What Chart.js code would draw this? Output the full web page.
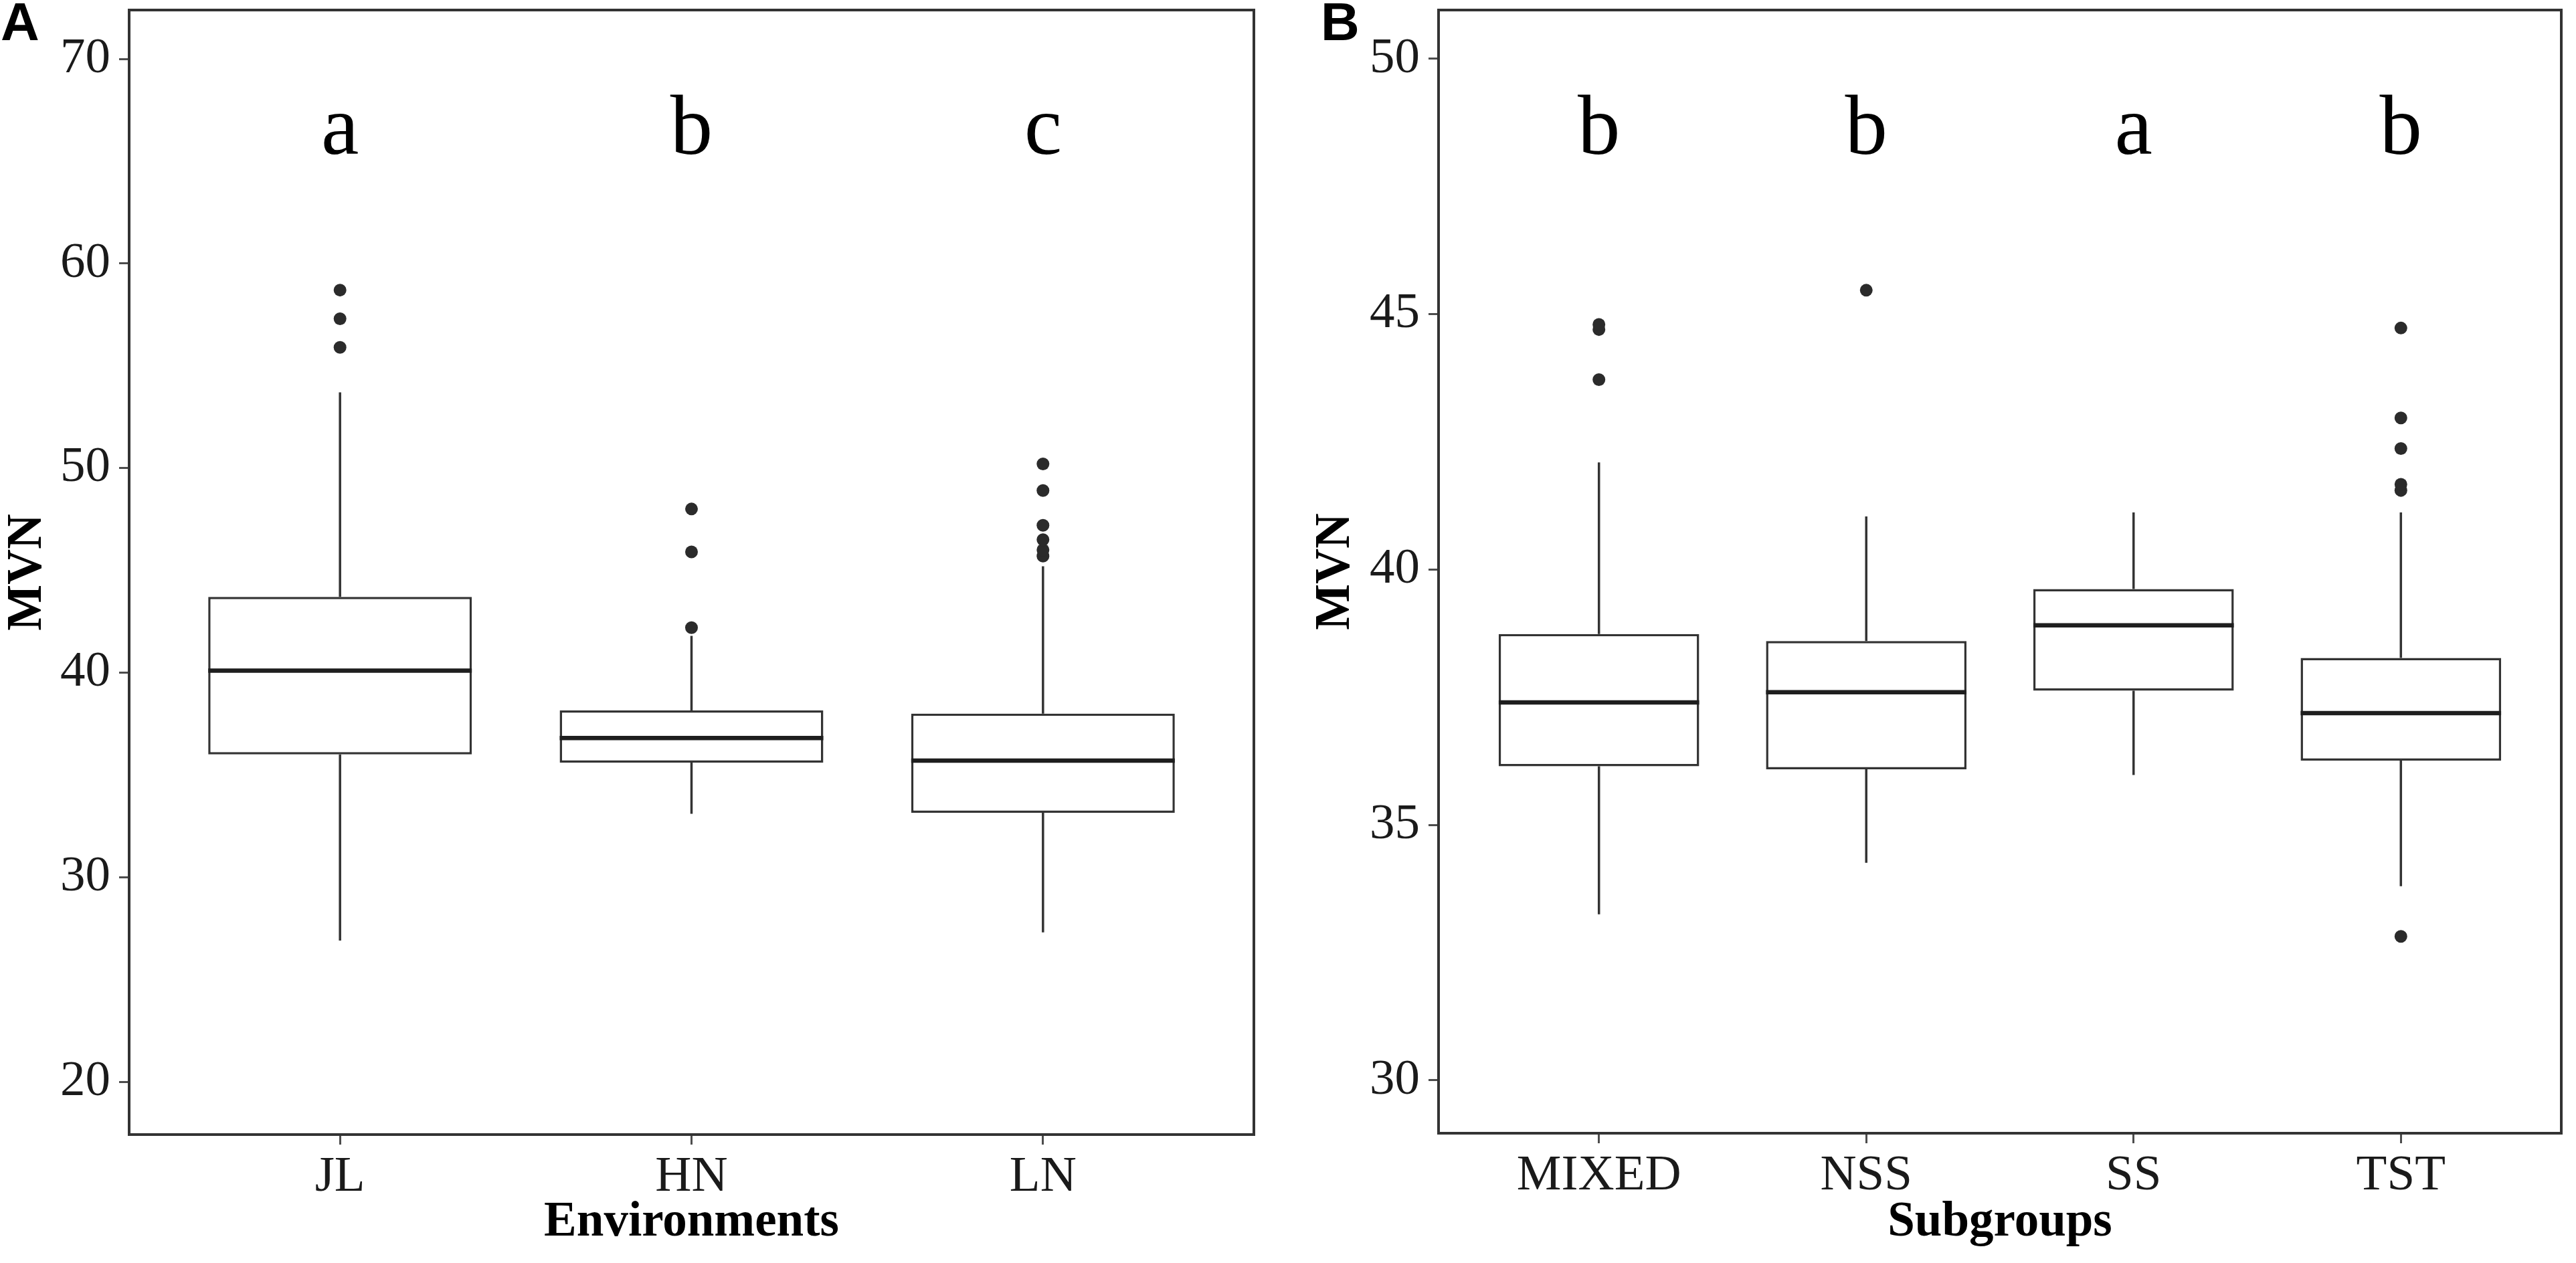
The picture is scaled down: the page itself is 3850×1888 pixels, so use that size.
<!DOCTYPE html>
<html><head><meta charset="utf-8">
<script src="https://cdn.jsdelivr.net/npm/chart.js@4.4.1/dist/chart.umd.min.js"></script>
<style>
html,body{margin:0;padding:0;background:#fff;width:3850px;height:1888px;overflow:hidden}
.panel{position:absolute;top:0;width:1925px;height:1888px}
canvas{display:block}
</style></head><body>
<div class="panel" style="left:0"><canvas id="cA" width="1925" height="1888"></canvas></div>
<div class="panel" style="left:1925px"><canvas id="cB" width="1925" height="1888"></canvas></div>
<script>
// ---- Panel A: Environments ----
const envCategories = ['JL', 'HN', 'LN'];
const envLower  = [26.9, 33.1, 27.3];
const envQ1     = [36.0, 35.6, 33.15];
const envMedian = [40.1, 36.8, 35.7];
const envQ3     = [43.7, 38.15, 38.0];
const envUpper  = [53.7, 41.8, 45.2];
const envOutliers = [[55.9, 57.3, 58.7], [42.2, 45.9, 48.0], [45.7, 46.0, 46.5, 47.2, 48.9, 50.2]];
const envLetters = ['a', 'b', 'c'];
const envLetterY = 65.35;
const envYTicks = [20, 30, 40, 50, 60, 70];
const envYRange = [17.42, 72.39];

// ---- Panel B: Subgroups ----
const subCategories = ['MIXED', 'NSS', 'SS', 'TST'];
const subLower  = [33.25, 34.26, 35.98, 33.8];
const subQ1     = [36.15, 36.09, 37.63, 36.26];
const subMedian = [37.4, 37.6, 38.91, 37.19];
const subQ3     = [38.74, 38.6, 39.62, 38.27];
const subUpper  = [42.1, 41.04, 41.12, 41.12];
const subOutliers = [[43.72, 44.7, 44.8], [45.47], [], [32.82, 41.55, 41.67, 42.37, 42.97, 44.73]];
const subLetters = ['b', 'b', 'a', 'b'];
const subLetterY = 48.14;
const subYTicks = [30, 35, 40, 45, 50];
const subYRange = [28.965, 50.956];

const LINE = '#333333';
const SERIF = '"Liberation Serif", "Times New Roman", serif';

function zeroPad(s) { s.paddingTop = 0; s.paddingBottom = 0; s.paddingLeft = 0; s.paddingRight = 0; }

function boxPlugin(cfg) {
  return {
    id: 'boxExtras',
    afterDatasetsDraw(chart) {
      const {ctx} = chart;
      const xs = chart.scales.x, ys = chart.scales.y;
      ctx.save();
      ctx.lineCap = 'butt';
      cfg.categories.forEach((c, i) => {
        const x = xs.getPixelForValue(i + 1);
        ctx.lineWidth = 3.5;
        ctx.strokeStyle = LINE;
        ctx.beginPath();
        ctx.moveTo(x, ys.getPixelForValue(cfg.q3[i]));
        ctx.lineTo(x, ys.getPixelForValue(cfg.upper[i]));
        ctx.moveTo(x, ys.getPixelForValue(cfg.q1[i]));
        ctx.lineTo(x, ys.getPixelForValue(cfg.lower[i]));
        ctx.stroke();
        ctx.lineWidth = 6.5;
        ctx.strokeStyle = '#1e1e1e';
        const xl = xs.getPixelForValue(i + 1 - 0.375), xr = xs.getPixelForValue(i + 1 + 0.375);
        const ym = ys.getPixelForValue(cfg.median[i]);
        ctx.beginPath();
        ctx.moveTo(xl, ym); ctx.lineTo(xr, ym);
        ctx.stroke();
      });
      ctx.restore();
    },
    afterDraw(chart) {
      const {ctx, chartArea} = chart;
      const xs = chart.scales.x, ys = chart.scales.y;
      ctx.save();
      ctx.strokeStyle = LINE;
      ctx.lineWidth = 4;
      ctx.beginPath();
      ctx.moveTo(chartArea.left, chartArea.top);
      ctx.lineTo(chartArea.right, chartArea.top);
      ctx.lineTo(chartArea.right, chartArea.bottom);
      ctx.stroke();
      ctx.fillStyle = '#000';
      ctx.font = '127px ' + SERIF;
      ctx.textAlign = 'center';
      ctx.textBaseline = 'alphabetic';
      cfg.letters.forEach((l, i) => {
        ctx.fillText(l, xs.getPixelForValue(i + 1), ys.getPixelForValue(cfg.letterY));
      });
      ctx.font = 'bold 80px "Liberation Sans", Arial, sans-serif';
      ctx.textAlign = 'left';
      ctx.fillText(cfg.tag, cfg.tagX, 60);
      ctx.restore();
    }
  };
}

function makeChart(canvasId, cfg) {
  const boxes = cfg.categories.map((c, i) => ({x: i + 1, y: [cfg.q1[i], cfg.q3[i]]}));
  const pts = [];
  cfg.outliers.forEach((arr, i) => arr.forEach(v => pts.push({x: i + 1, y: v})));
  return new Chart(document.getElementById(canvasId), {
    type: 'bar',
    data: {
      datasets: [
        {
          type: 'bar',
          data: boxes,
          backgroundColor: '#ffffff',
          borderColor: LINE,
          borderWidth: 3.5,
          borderSkipped: false,
          categoryPercentage: 1,
          barPercentage: 0.75,
          order: 2
        },
        {
          type: 'scatter',
          data: pts,
          pointRadius: 9.5,
          pointBackgroundColor: '#2b2b2b',
          pointBorderWidth: 0,
          order: 1
        }
      ]
    },
    options: {
      responsive: false,
      devicePixelRatio: 1,
      animation: false,
      events: [],
      layout: {padding: {left: 0, right: cfg.padRight, top: 15, bottom: 0}},
      plugins: {legend: {display: false}, tooltip: {enabled: false}},
      scales: {
        x: {
          type: 'linear',
          offset: false,
          min: 0.4,
          max: cfg.categories.length + 0.6,
          afterBuildTicks: s => { s.ticks = cfg.categories.map((c, i) => ({value: i + 1})); },
          afterFit: s => { s.height = cfg.xAxisHeight; zeroPad(s); },
          ticks: {
            callback: v => cfg.categories[Math.round(v) - 1],
            font: {family: SERIF, size: 75, lineHeight: 1},
            color: '#1a1a1a',
            padding: 12,
            maxRotation: 0,
            autoSkip: false
          },
          grid: {display: true, offset: false, drawOnChartArea: false, drawTicks: true, tickLength: 15, color: '#4d4d4d', lineWidth: 3},
          border: {display: true, color: LINE, width: 4},
          title: {
            display: true,
            text: cfg.xTitle,
            color: '#000',
            font: {family: SERIF, size: 73, weight: 'bold', lineHeight: 1},
            padding: {top: 0, bottom: 23}
          }
        },
        y: {
          type: 'linear',
          min: cfg.yRange[0],
          max: cfg.yRange[1],
          afterBuildTicks: s => { s.ticks = cfg.yTicks.map(v => ({value: v})); },
          afterFit: s => { s.width = cfg.yAxisWidth; zeroPad(s); },
          ticks: {
            font: {family: SERIF, size: 75, lineHeight: 1},
            color: '#1a1a1a',
            padding: 13
          },
          grid: {display: true, drawOnChartArea: false, drawTicks: true, tickLength: 15, color: '#4d4d4d', lineWidth: 3},
          border: {display: true, color: LINE, width: 4},
          title: {
            display: true,
            text: 'MVN',
            color: '#000',
            font: {family: SERIF, size: 73, weight: 'bold', lineHeight: 1},
            padding: {top: cfg.yTitlePad, bottom: 0}
          }
        }
      }
    },
    plugins: [boxPlugin(cfg)]
  });
}

makeChart('cA', {
  categories: envCategories, lower: envLower, q1: envQ1, median: envMedian, q3: envQ3, upper: envUpper,
  outliers: envOutliers, letters: envLetters, letterY: envLetterY, yTicks: envYTicks, yRange: envYRange,
  xTitle: 'Environments', tag: 'A', tagX: 1,
  padRight: 51, yAxisWidth: 193, xAxisHeight: 192, yTitlePad: 6
});
makeChart('cB', {
  categories: subCategories, lower: subLower, q1: subQ1, median: subMedian, q3: subQ3, upper: subUpper,
  outliers: subOutliers, letters: subLetters, letterY: subLetterY, yTicks: subYTicks, yRange: subYRange,
  xTitle: 'Subgroups', tag: 'B', tagX: 49,
  padRight: 22, yAxisWidth: 225, xAxisHeight: 194, yTitlePad: 36
});
</script>
</body></html>
